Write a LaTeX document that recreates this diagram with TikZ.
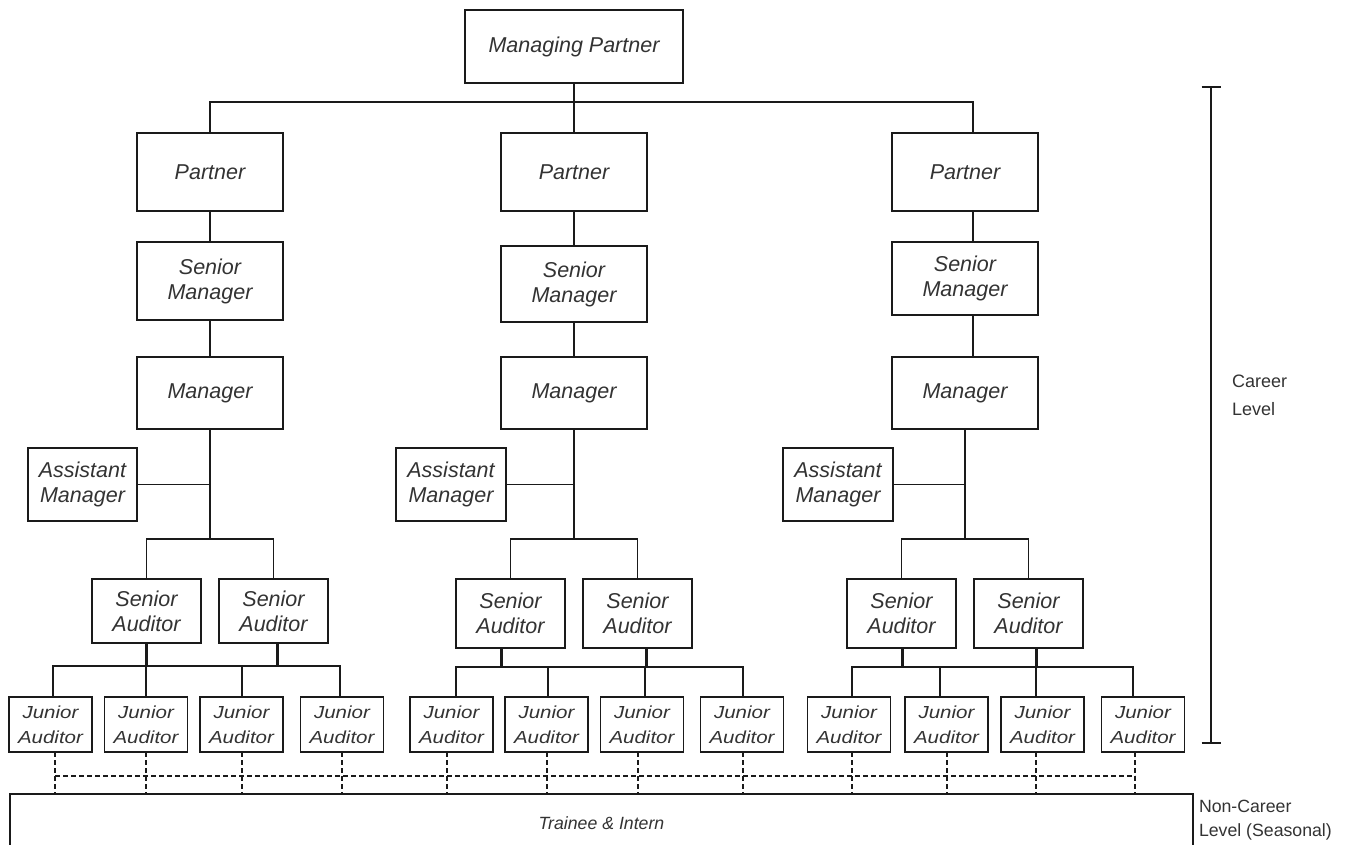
\documentclass[tikz,border=0pt]{standalone}
\usepackage{fontspec}
\setmainfont{Liberation Sans}
\usepackage{graphicx}
\definecolor{txt}{HTML}{333333}
\definecolor{ln}{HTML}{1A1A1A}
\newcommand\sqz[1]{\scalebox{1}[0.85]{#1}}
\begin{document}
\begin{tikzpicture}[x=1pt,y=-1pt,
  box/.style={draw=ln, line width=1.3pt, rectangle, inner sep=0pt, outer sep=0pt, align=center, text=txt, font=\itshape\fontsize{21.5}{25}\selectfont},
  pbox/.style={box, minimum width=146pt},
  abox/.style={box, minimum width=109pt, minimum height=73pt},
  sbox/.style={box, minimum width=109pt},
  jbox/.style={box, minimum width=83pt, minimum height=55pt, font=\itshape\fontsize{20.5}{25}\selectfont},
  con/.style={draw=ln, line width=1.3pt},
  stub/.style={draw=ln, line width=3pt},
  dsh/.style={draw=ln, line width=1.3pt, dash pattern=on 5pt off 3pt},
  lbl/.style={text=txt, align=left, inner sep=0pt, outer sep=0pt, anchor=west}
]
\clip (0,0) rectangle (1350,844);
\fill[white] (0,0) rectangle (1350,844);

% top
\node[box, minimum width=218pt, minimum height=73pt] (mp) at (574,46.5) {Managing Partner};
\node[pbox, minimum height=78pt] (p1) at (210,172) {Partner};
\node[pbox, minimum height=78pt] (p2) at (574,172) {Partner};
\node[pbox, minimum height=78pt] (p3) at (965,172) {Partner};

\node[pbox, minimum height=78pt] (sm1) at (210,281) {Senior\\Manager};
\node[pbox, minimum height=76pt] (sm2) at (574,284) {Senior\\Manager};
\node[pbox, minimum height=73pt] (sm3) at (965,278.5) {Senior\\Manager};

\node[pbox, minimum height=72pt] (m1) at (210,393) {Manager};
\node[pbox, minimum height=72pt] (m2) at (574,393) {Manager};
\node[pbox, minimum height=72pt] (m3) at (965,393) {Manager};

\node[abox] (am1) at (82.5,484.5) {Assistant\\Manager};
\node[abox, minimum width=110pt] (am2) at (451,484.5) {Assistant\\Manager};
\node[abox, minimum width=110pt] (am3) at (838,484.5) {Assistant\\Manager};

\node[sbox, minimum height=64pt] (sa1) at (146.5,611) {Senior\\Auditor};
\node[sbox, minimum height=64pt] (sa2) at (273.5,611) {Senior\\Auditor};
\node[sbox, minimum height=69pt] (sa3) at (510.5,613.5) {Senior\\Auditor};
\node[sbox, minimum height=69pt] (sa4) at (637.5,613.5) {Senior\\Auditor};
\node[sbox, minimum height=69pt] (sa5) at (901.5,613.5) {Senior\\Auditor};
\node[sbox, minimum height=69pt] (sa6) at (1028.5,613.5) {Senior\\Auditor};

\foreach \n/\x in {j1/50.5, j2/146, j3/241.5, j4/342, j5/451.5, j6/546.5, j7/642, j8/742, j9/849, j10/946.5, j11/1042.5, j12/1143}
  \node[jbox] (\n) at (\x,724.5) {\sqz{Junior}\\\sqz{Auditor}};

\node[box, minimum width=1183pt, minimum height=58pt, font=\itshape\fontsize{17.7}{22}\selectfont] (tr) at (601.5,823) {Trainee \& Intern};

% labels
\node[lbl, font=\fontsize{18}{28}\selectfont] (cl) at (1232,395.5) {Career\\Level};
\node[lbl, font=\fontsize{17.7}{24}\selectfont] (ncl) at (1199,820.5) {Non-Career\\Level (Seasonal)};

% bracket
\coordinate (bt) at (1211,87);
\coordinate (bb) at (1211,743);
\draw[con] (bt) -- (bb);
\draw[con] ([xshift=-9.5pt]bt) -- ([xshift=9.5pt]bt);
\draw[con] ([xshift=-9.5pt]bb) -- ([xshift=9.5pt]bb);

% top connectors
\draw[con] (mp.south) -- (p2.north);
\draw[con] (p1.north) -- ++(0,-31) -| ([xshift=8pt]p3.north);
\draw[con] (p1.south) -- (sm1.north);
\draw[con] (p2.south) -- (sm2.north);
\draw[con] ([xshift=8pt]p3.south) -- ([xshift=8pt]sm3.north);
\draw[con] (sm1.south) -- (m1.north);
\draw[con] (sm2.south) -- (m2.north);
\draw[con] ([xshift=8pt]sm3.south) -- ([xshift=8pt]m3.north);

% manager to senior auditors
\draw[con] (m1.south) -- ++(0,110) coordinate (h1);
\draw[con] (m2.south) -- ++(0,110) coordinate (h2);
\draw[con] (m3.south) -- ++(0,110) coordinate (h3);
\draw[con] (am1.east) -- (am1.east -| m1.south);
\draw[con] (am2.east) -- (am2.east -| m2.south);
\draw[con] (am3.east) -- (am3.east -| m3.south);
\draw[con] (sa1.north) -- (sa1.north |- h1) -- (sa2.north |- h1) -- (sa2.north);
\draw[con] (sa3.north) -- (sa3.north |- h2) -- (sa4.north |- h2) -- (sa4.north);
\draw[con] (sa5.north) -- (sa5.north |- h3) -- (sa6.north |- h3) -- (sa6.north);

% junior bars
\draw[con] ([xshift=2.5pt]j1.north) -- ++(0,-31) -| ([xshift=-2pt]j4.north);
\draw[con] (j2.north) -- ++(0,-31);
\draw[con] ([xshift=0.5pt]j3.north) -- ++(0,-31);
\draw[con] ([xshift=4.5pt]j5.north) -- ++(0,-30) -| ([xshift=1pt]j8.north);
\draw[con] ([xshift=1.5pt]j6.north) -- ++(0,-30);
\draw[con] ([xshift=3pt]j7.north) -- ++(0,-30);
\draw[con] ([xshift=3pt]j9.north) -- ++(0,-30) -| ([xshift=-10pt]j12.north);
\draw[con] ([xshift=-6.5pt]j10.north) -- ++(0,-30);
\draw[con] ([xshift=-6.5pt]j11.north) -- ++(0,-30);

% stubs
\draw[stub] ([xshift=-0.5pt]sa1.south) -- ++(0,23);
\draw[stub] ([xshift=3.5pt]sa2.south) -- ++(0,23);
\draw[stub] ([xshift=-9.5pt]sa3.south) -- ++(0,19);
\draw[stub] ([xshift=8.5pt]sa4.south) -- ++(0,19);
\draw[stub] ([xshift=0.5pt]sa5.south) -- ++(0,19);
\draw[stub] ([xshift=7.5pt]sa6.south) -- ++(0,19);

% dashed
\foreach \n/\d in {j1/4.5, j2/0, j3/0.5, j4/0, j5/-4.5, j6/0.5, j7/-4, j8/1, j9/3, j10/0.5, j11/-6.5, j12/-8}
  \draw[dsh] ([xshift=\d pt]\n.south) -- ([xshift=\d pt]\n.south |- tr.north);
\draw[dsh] ([xshift=4.5pt,yshift=-24pt]j1.south) -- ([xshift=-8pt,yshift=-24pt]j12.south);
\end{tikzpicture}
\end{document}
